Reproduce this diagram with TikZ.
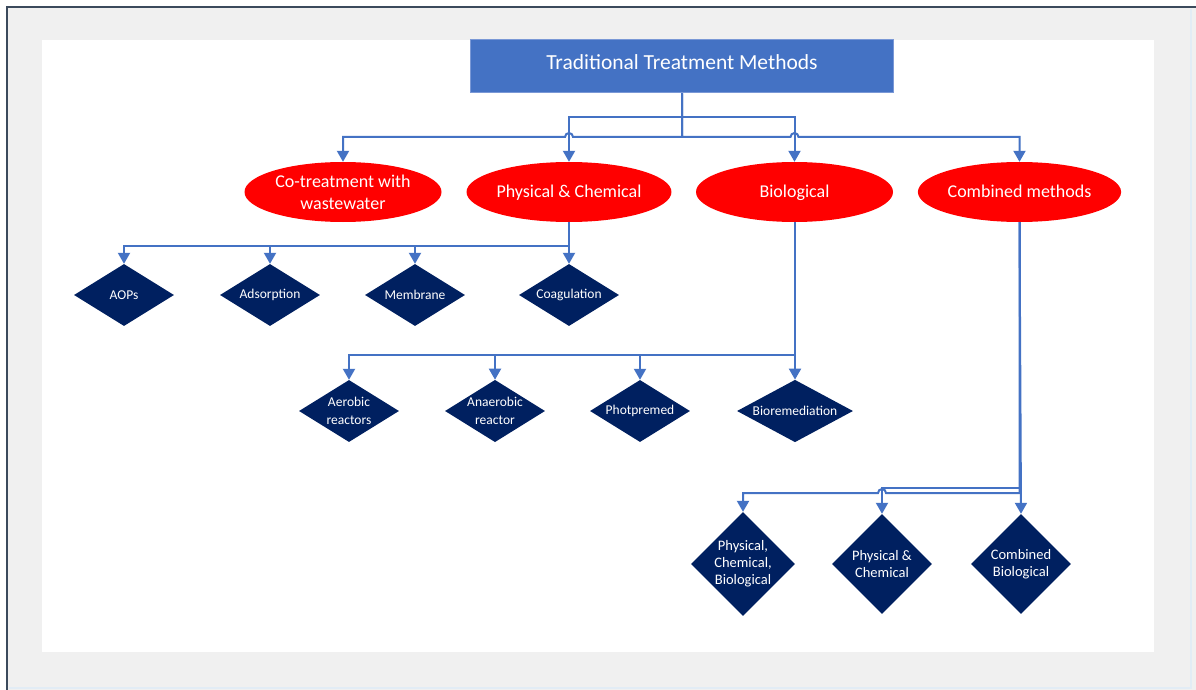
\documentclass[tikz,border=0pt]{standalone}
\usepackage{fontspec}
\setmainfont{Carlito}
\usetikzlibrary{shapes.geometric,arrows.meta}
\definecolor{frameline}{HTML}{3B4A5C}
\definecolor{panel}{HTML}{F0F0F0}
\definecolor{edgelight}{HTML}{E2ECF5}
\definecolor{titleblue}{HTML}{4472C4}
\definecolor{titleedge}{HTML}{7A98D6}
\definecolor{linkblue}{HTML}{4472C4}
\definecolor{navy}{HTML}{002060}
\tikzset{
  titlebox/.style={draw=titleedge, line width=1pt, fill=titleblue, text=white,
    minimum width=423pt, minimum height=53pt, inner sep=0pt, text depth=8pt,
    font=\fontsize{21.5}{24}\selectfont},
  category/.style={ellipse, fill=red, text=white, minimum width=197pt, minimum height=60pt,
    inner sep=0pt, align=center, font=\fontsize{18}{22}\selectfont},
  one line/.style={text height=13pt, text depth=2pt},
  method/.style={diamond, fill=navy, text=white, inner sep=0pt, align=center,
    minimum width=100pt, minimum height=62pt, shape aspect=1.6,
    font=\fontsize{13.5}{18}\selectfont},
  wide method/.style={method, minimum width=116pt},
  combo/.style={diamond, fill=navy, text=white, inner sep=0pt, align=center,
    minimum width=100pt, minimum height=100pt, shape aspect=1,
    font=\fontsize{14.5}{17}\selectfont},
  conn/.style={draw=linkblue, line width=2pt, -{Triangle[width=12pt,length=11pt]}},
}
\begin{document}
\begin{tikzpicture}[x=1pt,y=-1pt]
  % page, grey panel and white sheet
  \fill[white] (0,0) rectangle (1196,690);
  \useasboundingbox (0,0) rectangle (1196,690);
  \fill[panel] (7,7) rectangle (1196,690);
  \draw[edgelight, line width=2pt] (1191,9) -- (1191,688) -- (9,688);
  \draw[frameline, line width=2.5pt] (7,690) -- (7,7) -- (1196,7);
  \fill[white] (42,40) rectangle (1154,652);

  % root
  \node[titlebox] (title) at (682,66.5) {Traditional Treatment Methods};

  % categories
  \node[category] (co)   at (343,192)   {Co-treatment with\\wastewater};
  \node[category, one line] (phys) at (569,192)   {Physical \& Chemical};
  \node[category, one line] (bio)  at (794.5,192) {Biological};
  \node[category, one line] (comb) at (1019.5,192){Combined methods};

  % physical & chemical methods
  \node[method] (aop)  at (124,295) {AOPs};
  \node[method] (ads)  at (270,295) {Adsorption};
  \node[method] (mem)  at (415,295) {Membrane};
  \node[method] (coag) at (569,295) {Coagulation};

  % biological methods
  \node[method] (aer)  at (349,411) {Aerobic\\reactors};
  \node[method] (ana)  at (495,411) {Anaerobic\\reactor};
  \node[method] (pho)  at (640,411) {Photpremed};
  \node[wide method] (bior) at (795,411) {Bioremediation};

  % combined methods
  \node[combo] (pcb)  at (743,564)  {Physical,\\Chemical,\\Biological};
  \node[combo] (pcm)  at (882,564)  {Physical \&\\Chemical};
  \node[combo] (cbio) at (1021,564) {Combined\\Biological};

  % bus levels
  \coordinate (busA) at (0,117);
  \coordinate (busB) at (0,137);
  \coordinate (busC) at (0,246);
  \coordinate (busD) at (0,355);
  \coordinate (busE) at (0,488);
  \coordinate (busF) at (0,493);

  % root to categories (outer pair hop over the inner drops)
  \draw[conn] (title.south) -- (title.south |- busA) -| (phys.north);
  \draw[conn] (title.south) -- (title.south |- busA) -| (bio.north);
  \draw[conn] (title.south) -- (title.south |- busB)
     -- ([xshift=4pt]phys.north |- busB) arc(0:-180:4)
     -- (co.north |- busB) -- (co.north);
  \draw[conn] (title.south) -- (title.south |- busB)
     -- ([xshift=-4pt]bio.north |- busB) arc(180:360:4)
     -- (comb.north |- busB) -- (comb.north);

  % physical & chemical branch
  \foreach \t in {aop,ads,mem,coag}
    \draw[conn] (phys.south) -- (phys.south |- busC) -| (\t.north);

  % biological branch
  \foreach \t in {aer,ana,pho,bior}
    \draw[conn] (bio.south) -- (bio.south |- busD) -| (\t.north);

  % combined branch
  \draw[conn] (comb.south) -- (cbio.north);
  \draw[conn] (comb.south) -- (comb.south |- busE) -| (pcm.north);
  \draw[conn] (comb.south) -- (comb.south |- busF)
     -- ([xshift=4pt]pcm.north |- busF) arc(0:-180:4)
     -- (pcb.north |- busF) -- (pcb.north);
\end{tikzpicture}
\end{document}
